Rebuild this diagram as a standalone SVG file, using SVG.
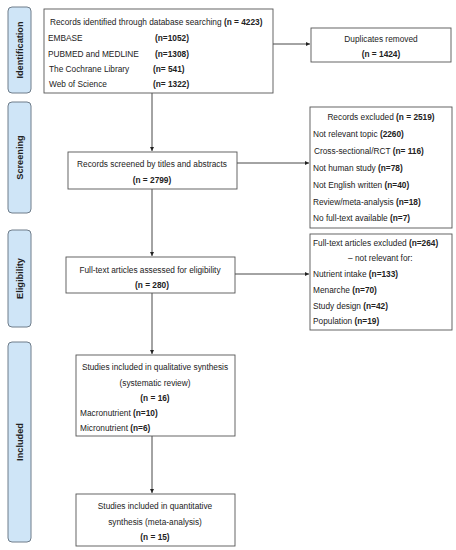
<svg xmlns="http://www.w3.org/2000/svg" width="456" height="550" viewBox="0 0 456 550">
<defs>
<style>
.box{fill:#fff;stroke:#555;stroke-width:0.9}
.side{fill:#cfe5f7;stroke:#6f7d8a;stroke-width:1}
text{font-family:"Liberation Sans",Arial,sans-serif;font-size:8.3px;fill:#222}
.b{font-weight:bold}
.sl{font-weight:bold;font-size:9.2px;text-anchor:middle}
.c{text-anchor:middle}
.ln{stroke:#333;stroke-width:0.9;fill:none}
</style>
<marker id="ah" viewBox="0 0 6 6" refX="6" refY="3" markerWidth="5" markerHeight="5" orient="auto"><path d="M0,0 L6,3 L0,6 z" fill="#222"/></marker>
</defs>
<rect width="456" height="550" fill="#fff"/>
<g id="side-identification"><rect class="side" x="8" y="7" width="23" height="86" rx="4"/><text class="sl" transform="translate(23,50) rotate(-90)">Identification</text></g>
<g id="side-screening"><rect class="side" x="8" y="102" width="23" height="111" rx="4"/><text class="sl" transform="translate(23,157.5) rotate(-90)">Screening</text></g>
<g id="side-eligibility"><rect class="side" x="8" y="230" width="23" height="97" rx="4"/><text class="sl" transform="translate(23,278.5) rotate(-90)">Eligibility</text></g>
<g id="side-included"><rect class="side" x="8" y="342" width="23" height="200" rx="4"/><text class="sl" transform="translate(23,442) rotate(-90)">Included</text></g>
<g id="connectors">
<line class="ln" x1="273" y1="44" x2="310" y2="44" marker-end="url(#ah)"/>
<line class="ln" x1="152" y1="93" x2="152" y2="151" marker-end="url(#ah)"/>
<line class="ln" x1="237" y1="163" x2="309" y2="163" marker-end="url(#ah)"/>
<line class="ln" x1="152" y1="189" x2="152" y2="256" marker-end="url(#ah)"/>
<line class="ln" x1="235" y1="274" x2="309" y2="274" marker-end="url(#ah)"/>
<line class="ln" x1="152" y1="293" x2="152" y2="354" marker-end="url(#ah)"/>
<line class="ln" x1="152" y1="436" x2="152" y2="493" marker-end="url(#ah)"/>
</g>
<g id="records-identified"><rect class="box" x="44" y="9" width="229" height="84"/>
<text x="50" y="25">Records identified through database searching <tspan class="b">(n = 4223)</tspan></text>
<text x="48" y="41">EMBASE</text><text class="b" x="155" y="41">(n=1052)</text>
<text x="48" y="57">PUBMED and MEDLINE</text><text class="b" x="155" y="57">(n=1308)</text>
<text x="49" y="72">The Cochrane Library</text><text class="b" x="153" y="72">(n= 541)</text>
<text x="49" y="87">Web of Science</text><text class="b" x="153" y="87">(n= 1322)</text>
</g>
<g id="duplicates"><rect class="box" x="311" y="28" width="140" height="34"/>
<text class="c" x="381" y="42">Duplicates removed</text><text class="c b" x="381" y="57">(n = 1424)</text></g>
<g id="screened"><rect class="box" x="68" y="152" width="169" height="37"/>
<text class="c" x="152" y="167">Records screened by titles and abstracts</text><text class="c b" x="152" y="183">(n = 2799)</text></g>
<g id="excluded"><rect class="box" x="310" y="107" width="142" height="121"/>
<text class="c" x="381" y="120">Records excluded <tspan class="b">(n = 2519)</tspan></text>
<text x="313" y="137">Not relevant topic <tspan class="b">(2260)</tspan></text>
<text x="314" y="154">Cross-sectional/RCT <tspan class="b">(n= 116)</tspan></text>
<text x="313" y="171">Not human study <tspan class="b">(n=78)</tspan></text>
<text x="313" y="188">Not English written <tspan class="b">(n=40)</tspan></text>
<text x="313" y="205">Review/meta-analysis <tspan class="b">(n=18)</tspan></text>
<text x="313" y="221">No full-text available <tspan class="b">(n=7)</tspan></text>
</g>
<g id="fulltext"><rect class="box" x="66" y="257" width="169" height="36"/>
<text class="c" x="150" y="273">Full-text articles assessed for eligibility</text><text class="c b" x="152" y="288">(n = 280)</text></g>
<g id="excluded2"><rect class="box" x="310" y="234" width="142" height="96"/>
<text x="313" y="246">Full-text articles excluded <tspan class="b">(n=264)</tspan></text>
<text x="348" y="261">– not relevant for:</text>
<text x="313" y="277">Nutrient intake <tspan class="b">(n=133)</tspan></text>
<text x="313" y="293">Menarche <tspan class="b">(n=70)</tspan></text>
<text x="313" y="309">Study design <tspan class="b">(n=42)</tspan></text>
<text x="313" y="324">Population <tspan class="b">(n=19)</tspan></text>
</g>
<g id="qualitative"><rect class="box" x="76" y="355" width="159" height="81"/>
<text class="c" x="155" y="370">Studies included in qualitative synthesis</text>
<text class="c" x="155" y="386">(systematic review)</text>
<text class="c b" x="155" y="401">(n = 16)</text>
<text x="80" y="416">Macronutrient <tspan class="b">(n=10)</tspan></text>
<text x="80" y="431">Micronutrient <tspan class="b">(n=6)</tspan></text>
</g>
<g id="quantitative"><rect class="box" x="76" y="494" width="159" height="52"/>
<text class="c" x="155" y="509">Studies included in quantitative</text>
<text class="c" x="155" y="525">synthesis (meta-analysis)</text>
<text class="c b" x="155" y="540">(n = 15)</text>
</g>
</svg>
